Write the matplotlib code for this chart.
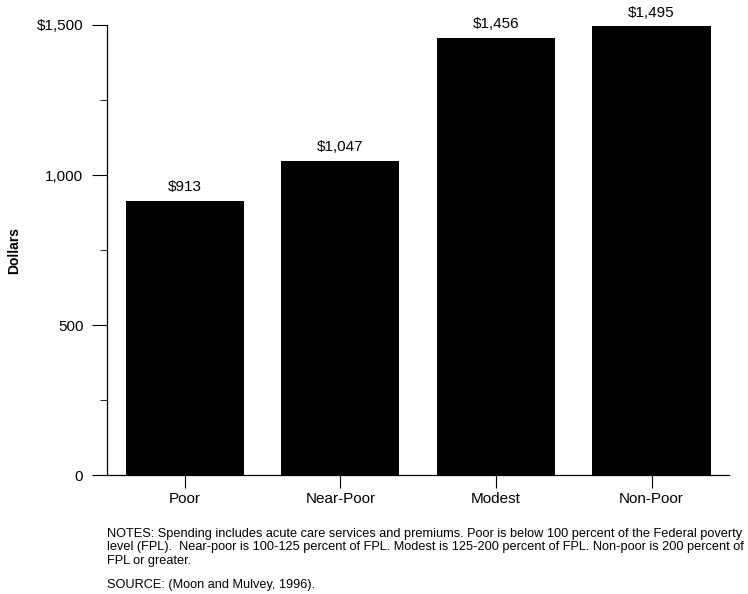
import matplotlib
matplotlib.use("Agg")
import matplotlib.pyplot as plt
from matplotlib.ticker import FixedLocator

plt.rcParams['font.family'] = ['Liberation Sans', 'DejaVu Sans']

categories = ['Poor', 'Near-Poor', 'Modest', 'Non-Poor']
spending = [913, 1047, 1456, 1495]
value_labels = ['$913', '$1,047', '$1,456', '$1,495']
y_ticks = [0, 500, 1000, 1500]
y_tick_labels = ['0', '500', '1,000', '$1,500']
y_minor = [250, 750, 1250]

notes = ("NOTES: Spending includes acute care services and premiums. Poor is below 100 percent of the Federal poverty\n"
         "level (FPL).  Near-poor is 100-125 percent of FPL. Modest is 125-200 percent of FPL. Non-poor is 200 percent of\n"
         "FPL or greater.")
source = "SOURCE: (Moon and Mulvey, 1996)."

fig = plt.figure(figsize=(7.48, 5.94), dpi=100)
ax = fig.add_axes([0.143, 0.200, 0.832, 0.758])

x = list(range(len(categories)))
bars = ax.bar(x, spending, width=0.76, color='black')

for bar, lab in zip(bars, value_labels):
    ax.annotate(lab, xy=(bar.get_x() + bar.get_width() / 2, bar.get_height()),
                xytext=(0, 5), textcoords='offset points',
                ha='center', va='bottom', fontsize=11)

ax.set_xlim(-0.5, 3.5)
ax.set_ylim(0, 1500)
ax.set_xticks(x)
ax.set_xticklabels(categories, fontsize=11)
ax.set_yticks(y_ticks)
ax.set_yticklabels(y_tick_labels, fontsize=11)
ax.yaxis.set_minor_locator(FixedLocator(y_minor))
ax.tick_params(axis='y', which='major', length=11, width=0.8, pad=6)
ax.tick_params(axis='y', which='minor', length=5, width=0.6)
ax.tick_params(axis='x', length=9, width=0.8, pad=3)

for s in ['top', 'right']:
    ax.spines[s].set_visible(False)
ax.spines['left'].set_linewidth(0.9)
ax.spines['bottom'].set_linewidth(0.9)

ax.set_ylabel('Dollars', fontsize=10, fontweight='bold')
ax.yaxis.set_label_coords(-0.138, 0.5)

fig.text(0.143, 1 - 528 / 594, notes, fontsize=9.2, ha='left', va='top', linespacing=1.14)
fig.text(0.143, 1 - 579 / 594, source, fontsize=9.2, ha='left', va='top')

fig.savefig('out.png', dpi=100)
